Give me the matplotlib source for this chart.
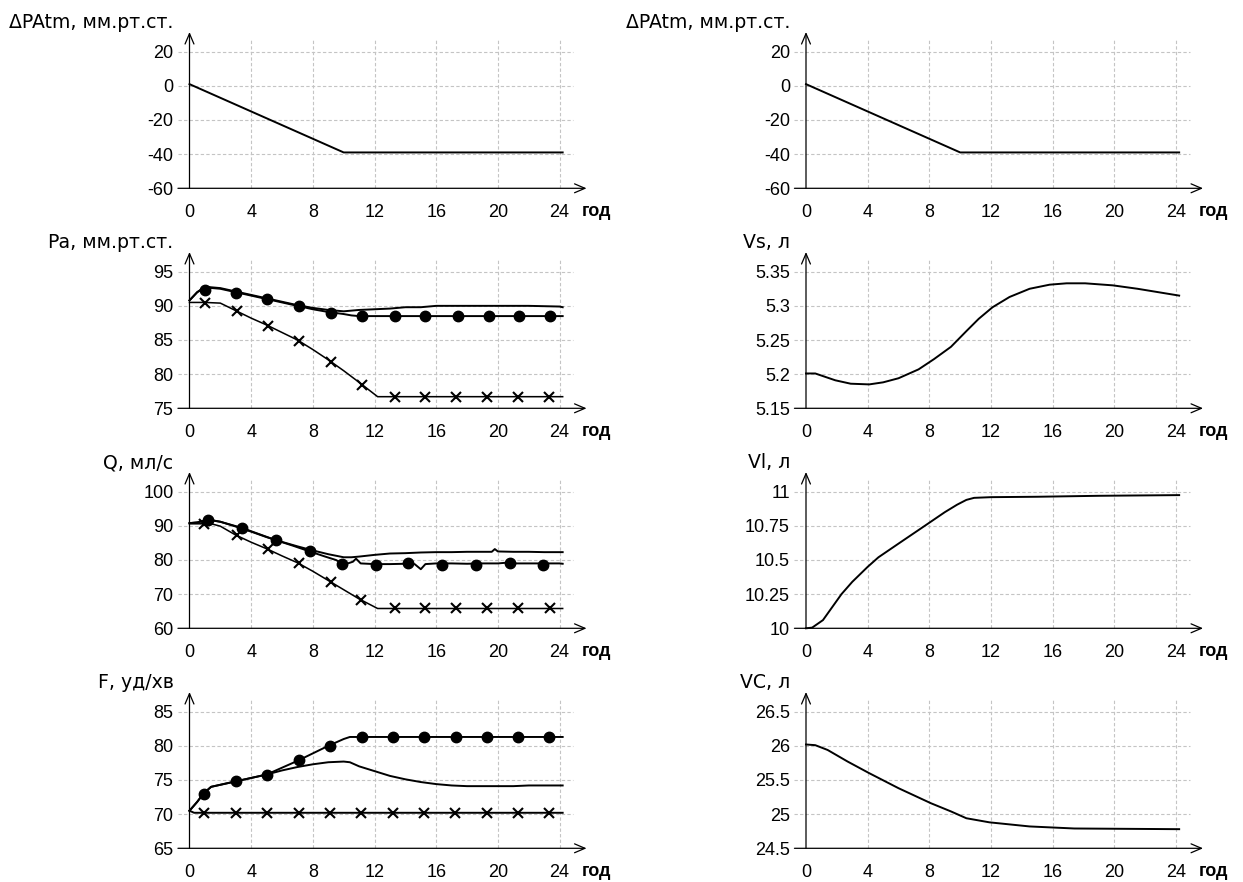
import matplotlib
matplotlib.use('Agg')
import matplotlib.pyplot as plt

plt.rcParams['font.family'] = ['Liberation Sans', 'DejaVu Sans']

# ---------------- data ----------------
x_ticks = [0, 4, 8, 12, 16, 20, 24]
x_unit_label = "год"

# ΔPAtm (both top panels)
atm_t = [0, 10, 24.2]
atm_v = [1, -39, -39]
atm_ticks = [-60, -40, -20, 0, 20]

# Pa
pa_ticks = [75, 80, 85, 90, 95]
pa_plain_t = [0, 0.5, 1, 2, 3, 4, 5, 6, 7, 8, 9, 10, 11, 12, 13, 14, 15, 16, 18, 20, 22, 24, 24.2]
pa_plain_v = [90.8, 92.0, 92.8, 92.6, 92.1, 91.6, 91.1, 90.6, 90.1, 89.7, 89.4, 89.2, 89.4, 89.5, 89.6,
              89.8, 89.8, 90.0, 90.0, 90.0, 90.0, 89.9, 89.8]
pa_dot_t = [0, 0.5, 1, 2, 3, 4, 5, 6, 7, 8, 9, 10, 10.5, 11, 12, 16, 20, 24.2]
pa_dot_v = [90.8, 92.0, 92.7, 92.5, 92.0, 91.5, 91.0, 90.5, 90.0, 89.5, 89.1, 88.8, 88.6, 88.5, 88.5,
            88.5, 88.5, 88.5]
pa_dot_mt = [1.0, 3.0, 5.0, 7.1, 9.2, 11.2, 13.3, 15.3, 17.4, 19.4, 21.4, 23.4]
pa_dot_mv = [92.3, 91.9, 91.0, 90.0, 89.0, 88.5, 88.5, 88.5, 88.5, 88.5, 88.5, 88.5]
pa_x_t = [0, 1, 2, 3, 4, 5, 6, 7, 8, 9, 10, 11, 12.2, 24.2]
pa_x_v = [90.5, 90.5, 90.4, 89.3, 88.2, 87.2, 86.1, 85.0, 83.6, 82.1, 80.5, 78.8, 76.7, 76.7]
pa_x_mt = [1.0, 3.1, 5.1, 7.1, 9.2, 11.2, 13.3, 15.3, 17.3, 19.3, 21.3, 23.3]
pa_x_mv = [90.4, 89.2, 87.1, 84.9, 81.8, 78.4, 76.7, 76.7, 76.7, 76.7, 76.7, 76.7]

# Q
q_ticks = [60, 70, 80, 90, 100]
q_plain_t = [0, 0.5, 1, 1.5, 2, 3, 4, 5, 6, 7, 8, 9, 10, 10.5, 11, 12, 13, 14, 15, 16, 17, 18, 19,
             19.6, 19.8, 20.0, 21, 22, 23, 24, 24.2]
q_plain_v = [90.8, 91.0, 91.5, 91.6, 91.2, 89.8, 88.3, 86.7, 85.3, 84.0, 82.8, 81.7, 80.8, 80.8, 81.0,
             81.5, 81.9, 82.0, 82.2, 82.3, 82.3, 82.4, 82.4, 82.4, 83.2, 82.5, 82.4, 82.4, 82.3, 82.3, 82.3]
q_dot_t = [0, 0.5, 1.2, 2, 3.4, 4.5, 5.6, 6.7, 7.8, 8.8, 9.5, 9.9, 10.2, 10.6, 10.8, 11.1, 12, 13, 14,
           14.6, 15.0, 15.3, 16, 17, 18, 19, 20, 20.8, 21.2, 22, 23, 24, 24.2]
q_dot_v = [90.8, 91.0, 91.8, 91.2, 89.4, 87.6, 85.8, 84.2, 82.5, 81.0, 80.0, 79.0, 78.9, 79.5, 80.4,
           79.0, 78.8, 78.8, 78.9, 78.8, 77.3, 78.8, 79.0, 79.0, 78.9, 79.0, 79.0, 79.3, 79.0, 79.0,
           79.0, 79.0, 78.9]
q_dot_mt = [1.2, 3.4, 5.6, 7.8, 9.9, 12.1, 14.2, 16.4, 18.6, 20.8, 22.9]
q_dot_mv = [91.8, 89.3, 85.8, 82.5, 78.7, 78.5, 79.0, 78.5, 78.5, 79.0, 78.5]
q_x_t = [0, 1, 1.5, 2, 3, 4, 5, 6, 7, 8, 9, 10, 11, 12.2, 24.2]
q_x_v = [90.6, 90.6, 90.5, 89.9, 87.3, 85.2, 83.3, 81.2, 79.2, 76.7, 74.0, 71.3, 68.6, 65.8, 65.8]
q_x_mt = [0.94, 3.06, 5.1, 7.08, 9.17, 11.15, 13.3, 15.3, 17.3, 19.3, 21.3, 23.4]
q_x_mv = [90.4, 87.3, 83.1, 79.1, 73.6, 68.3, 65.8, 65.8, 65.8, 65.8, 65.8, 65.8]

# F
f_ticks = [65, 70, 75, 80, 85]
f_dot_t = [0, 0.5, 0.9, 1.4, 2, 3, 4, 5, 6, 7, 8, 9, 10, 10.4, 12, 14, 16, 18, 20, 22, 24.2]
f_dot_v = [70.5, 71.8, 73.0, 74.0, 74.3, 74.8, 75.3, 75.8, 76.8, 77.8, 78.9, 80.0, 81.0, 81.3, 81.3,
           81.3, 81.3, 81.3, 81.3, 81.3, 81.3]
f_dot_mt = [0.94, 3.0, 5.0, 7.1, 9.1, 11.2, 13.2, 15.2, 17.3, 19.3, 21.3, 23.3]
f_dot_mv = [73.0, 74.8, 75.8, 77.9, 80.0, 81.3, 81.3, 81.3, 81.3, 81.3, 81.3, 81.3]
f_plain_t = [0, 0.5, 0.9, 1.4, 2, 3, 4, 5, 6, 7, 8, 9, 10, 10.4, 11, 12, 13, 14, 15, 16, 17, 18, 19,
             20, 21, 22, 23, 24.2]
f_plain_v = [70.5, 71.8, 73.0, 74.0, 74.3, 74.8, 75.3, 75.8, 76.4, 76.9, 77.3, 77.6, 77.7, 77.6, 77.0,
             76.3, 75.6, 75.1, 74.7, 74.4, 74.2, 74.1, 74.1, 74.1, 74.1, 74.2, 74.2, 74.2]
f_x_t = [0, 0.3, 24.2]
f_x_v = [70.5, 70.2, 70.2]
f_x_mt = [0.94, 3.0, 5.0, 7.1, 9.1, 11.1, 13.2, 15.2, 17.2, 19.3, 21.3, 23.3]
f_x_mv = [70.2] * 12

# Vs
vs_ticks = [5.15, 5.2, 5.25, 5.3, 5.35]
vs_tick_labels = ["5.15", "5.2", "5.25", "5.3", "5.35"]
vs_t = [0, 0.6, 1.9, 2.9, 4.1, 5.0, 6.0, 7.3, 8.3, 9.4, 10.4, 11.2, 12.1, 13.2, 14.5, 15.8, 16.9,
        18.1, 19.9, 21.5, 24.2]
vs_v = [5.201, 5.201, 5.191, 5.186, 5.185, 5.188, 5.194, 5.207, 5.222, 5.240, 5.263, 5.281, 5.298,
        5.313, 5.325, 5.331, 5.333, 5.333, 5.330, 5.325, 5.315]

# Vl
vl_ticks = [10, 10.25, 10.5, 10.75, 11]
vl_tick_labels = ["10", "10.25", "10.5", "10.75", "11"]
vl_t = [0, 0.4, 1.1, 2.3, 3.0, 4.0, 4.7, 6.0, 7.7, 9.0, 9.8, 10.4, 10.9, 12, 15, 19, 24.2]
vl_v = [10.0, 10.005, 10.06, 10.25, 10.34, 10.45, 10.52, 10.62, 10.75, 10.85, 10.905, 10.94, 10.955,
        10.96, 10.963, 10.97, 10.975]

# VC
vc_ticks = [24.5, 25, 25.5, 26, 26.5]
vc_tick_labels = ["24.5", "25", "25.5", "26", "26.5"]
vc_t = [0, 0.6, 1.4, 2.7, 4.1, 6.0, 8.1, 9.4, 10.4, 11.9, 14.5, 17.4, 24.2]
vc_v = [26.02, 26.01, 25.94, 25.77, 25.60, 25.38, 25.16, 25.04, 24.94, 24.88, 24.82, 24.79, 24.78]

# ---------------- layout ----------------
W, H = 1243, 882
fig = plt.figure(figsize=(W / 100, H / 100), dpi=100)
fig.patch.set_facecolor('white')

PX_X = 15.42            # pixels per hour
PLOT_H = 136.6          # pixels from lowest to highest tick
X0 = [189.5, 806.0]     # pixel of t=0 per column
AXIS_Y = [188.3, 408.3, 628.3, 848.3]
XLIM = (-1.0, 26.6)
TOP_EXTRA = 24.0
BOT_EXTRA = 10.0
FS = 13
TITLE_FS = 13.6
GRID_C = '#c4c4c4'
TITLE_FONT = ['DejaVu Sans']


def make_panel(col, row, yticks, ylabels, title):
    ymin, ymax = yticks[0], yticks[-1]
    ppu = PLOT_H / (ymax - ymin)
    x0 = X0[col]
    ay = AXIS_Y[row]
    left_px = x0 + XLIM[0] * PX_X
    right_px = x0 + XLIM[1] * PX_X
    top_px = ay - PLOT_H - TOP_EXTRA
    bot_px = ay + BOT_EXTRA
    ax = fig.add_axes([left_px / W, 1 - bot_px / H, (right_px - left_px) / W, (bot_px - top_px) / H])
    ax.set_xlim(*XLIM)
    ax.set_ylim(ymin - BOT_EXTRA / ppu, ymax + TOP_EXTRA / ppu)
    for s in ax.spines.values():
        s.set_visible(False)
    ax.patch.set_alpha(0)

    # grid
    for yv in yticks[1:]:
        ax.plot([-0.75, 24.9], [yv, yv], color=GRID_C, lw=0.8, ls=(0, (3, 2)), zorder=1)
    for xv in x_ticks[1:]:
        ax.plot([xv, xv], [ymin, ymax + 12.7 / ppu], color=GRID_C, lw=0.8, ls=(0, (3, 2)), zorder=1)

    # axes with arrows
    arrow = dict(arrowstyle='->,head_length=0.75,head_width=0.32', lw=0.9, color='black',
                 shrinkA=0, shrinkB=0)
    ax.annotate('', xy=(25.75, ymin), xytext=(-0.75, ymin), arrowprops=arrow, annotation_clip=False)
    ax.annotate('', xy=(0, ymax + 19.7 / ppu), xytext=(0, ymin), arrowprops=arrow,
                annotation_clip=False)

    ax.set_xticks(x_ticks)
    ax.set_xticklabels([str(v) for v in x_ticks])
    ax.set_yticks(yticks)
    ax.set_yticklabels(ylabels)
    ax.tick_params(axis='both', length=0, labelsize=FS, colors='black')
    ax.tick_params(axis='y', pad=0.5)
    ax.tick_params(axis='x', pad=3.8)

    ax.text(25.45, ymin - 28.2 / ppu, x_unit_label, fontsize=FS, fontweight='bold',
            ha='left', va='baseline', clip_on=False)
    ax.text(-16.0 / PX_X, ymin + 160.0 / ppu, title, fontsize=TITLE_FS, family=TITLE_FONT,
            ha='right', va='baseline', clip_on=False)
    return ax


def lab(vals):
    return [str(v) for v in vals]


LW = 1.4
MS = 7.5

# left column
ax = make_panel(0, 0, atm_ticks, lab(atm_ticks), "ΔPAtm, мм.рт.ст.")
ax.plot(atm_t, atm_v, color='black', lw=LW, zorder=3)

ax = make_panel(0, 1, pa_ticks, lab(pa_ticks), "Pa, мм.рт.ст.")
ax.plot(pa_plain_t, pa_plain_v, color='black', lw=LW, zorder=3)
ax.plot(pa_dot_t, pa_dot_v, color='black', lw=LW, zorder=3)
ax.plot(pa_dot_mt, pa_dot_mv, 'o', color='black', ms=MS, zorder=4)
ax.plot(pa_x_t, pa_x_v, color='black', lw=LW * 0.8, zorder=3)
ax.plot(pa_x_mt, pa_x_mv, 'x', color='black', ms=MS, mew=1.5, zorder=4)

ax = make_panel(0, 2, q_ticks, lab(q_ticks), "Q, мл/с")
ax.plot(q_plain_t, q_plain_v, color='black', lw=LW, zorder=3)
ax.plot(q_dot_t, q_dot_v, color='black', lw=LW, zorder=3)
ax.plot(q_dot_mt, q_dot_mv, 'o', color='black', ms=MS, zorder=4)
ax.plot(q_x_t, q_x_v, color='black', lw=LW * 0.8, zorder=3)
ax.plot(q_x_mt, q_x_mv, 'x', color='black', ms=MS, mew=1.5, zorder=4)

ax = make_panel(0, 3, f_ticks, lab(f_ticks), "F, уд/хв")
ax.plot(f_plain_t, f_plain_v, color='black', lw=LW, zorder=3)
ax.plot(f_dot_t, f_dot_v, color='black', lw=LW, zorder=3)
ax.plot(f_dot_mt, f_dot_mv, 'o', color='black', ms=MS, zorder=4)
ax.plot(f_x_t, f_x_v, color='black', lw=LW, zorder=3)
ax.plot(f_x_mt, f_x_mv, 'x', color='black', ms=MS, mew=1.5, zorder=4)

# right column
ax = make_panel(1, 0, atm_ticks, lab(atm_ticks), "ΔPAtm, мм.рт.ст.")
ax.plot(atm_t, atm_v, color='black', lw=LW, zorder=3)

ax = make_panel(1, 1, vs_ticks, vs_tick_labels, "Vs, л")
ax.plot(vs_t, vs_v, color='black', lw=LW, zorder=3)

ax = make_panel(1, 2, vl_ticks, vl_tick_labels, "Vl, л")
ax.plot(vl_t, vl_v, color='black', lw=LW, zorder=3)

ax = make_panel(1, 3, vc_ticks, vc_tick_labels, "VC, л")
ax.plot(vc_t, vc_v, color='black', lw=LW, zorder=3)

fig.savefig('out.png', dpi=100, facecolor='white')
